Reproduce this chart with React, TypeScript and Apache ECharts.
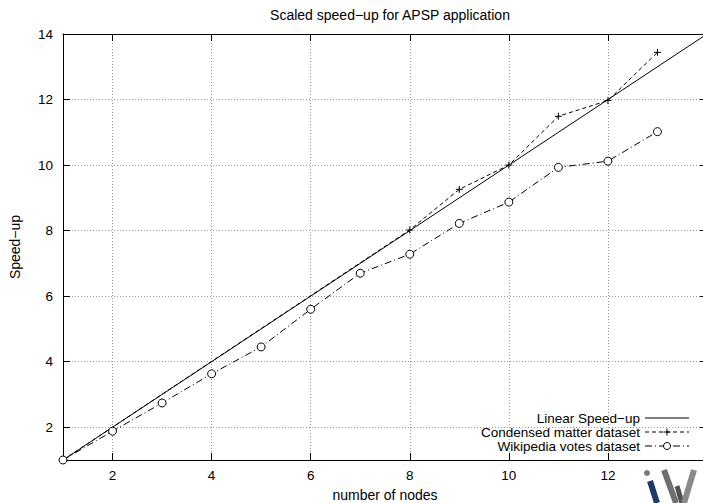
import React, { useEffect, useRef } from "react";
import * as echarts from "echarts";

const linearX = [1, 14];
const condensedNodes = [1, 8, 9, 10, 11, 12, 13];
const condensed = [1, 8.02, 9.26, 10.0, 11.49, 11.97, 13.44];
const wikiNodes = [1, 2, 3, 4, 5, 6, 7, 8, 9, 10, 11, 12, 13];
const wikipedia = [1.0, 1.88, 2.74, 3.63, 4.45, 5.6, 6.7, 7.28, 8.22, 8.87, 9.93, 10.12, 11.02];
const xTicks = [2, 4, 6, 8, 10, 12, 14];
const xLabels = [2, 4, 6, 8, 10, 12];
const yTicks = [2, 4, 6, 8, 10, 12, 14];
const seriesNames = ["Linear Speed−up", "Condensed matter dataset", "Wikipedia votes dataset"];
const titleText = "Scaled speed−up for APSP application";
const xName = "number of nodes";
const yName = "Speed−up";

const FONT = "'Liberation Sans', Arial, Helvetica, sans-serif";

export default function App() {
  const ref = useRef<HTMLDivElement>(null);
  useEffect(() => {
    if (!ref.current) return;
    const chart = echarts.init(ref.current, null, { renderer: "svg" });
    const gridLine = { show: true, lineStyle: { color: "#9a9a9a", type: [1, 2], width: 1 } };
    const tickIn = (vals: number[]) => ({ show: true, inside: true, length: 7, customValues: vals, lineStyle: { color: "#000", width: 1 } });
    const legendY = [418, 432, 446];
    const sampleX0 = 645;
    const sampleX1 = 689;
    const sampleMid = 667;
    const option: any = {
      animation: false,
      backgroundColor: "#fff",
      textStyle: { fontFamily: FONT },
      title: {
        text: titleText,
        left: 385,
        top: 3,
        textAlign: "center",
        textStyle: { fontFamily: FONT, fontSize: 14, fontWeight: "normal", color: "#000" },
      },
      grid: { left: 63, right: -4, top: 34, bottom: 43, containLabel: false, outerBoundsMode: "none" },
      xAxis: [
        {
          type: "value",
          min: 1,
          max: 14,
          position: "bottom",
          name: xName,
          nameLocation: "middle",
          nameGap: 28,
          nameTextStyle: { fontFamily: FONT, fontSize: 14, color: "#000" },
          axisLine: { show: true, onZero: false, lineStyle: { color: "#000", width: 1 } },
          axisTick: tickIn(xTicks),
          axisLabel: { customValues: xLabels, fontFamily: FONT, fontSize: 13.5, color: "#000", margin: 8 },
          splitLine: gridLine,
        },
        {
          type: "value",
          min: 1,
          max: 14,
          position: "top",
          axisLine: { show: true, onZero: false, lineStyle: { color: "#000", width: 1 } },
          axisTick: tickIn(xTicks),
          axisLabel: { show: false },
          splitLine: { show: false },
        },
      ],
      yAxis: [
        {
          type: "value",
          min: 1,
          max: 14,
          position: "left",
          name: yName,
          nameLocation: "middle",
          nameGap: 41,
          nameRotate: 90,
          nameTextStyle: { fontFamily: FONT, fontSize: 14, color: "#000" },
          axisLine: { show: true, onZero: false, lineStyle: { color: "#000", width: 1 } },
          axisTick: tickIn(yTicks),
          axisLabel: { customValues: yTicks, fontFamily: FONT, fontSize: 13.5, color: "#000", margin: 10 },
          splitLine: gridLine,
        },
        {
          type: "value",
          min: 1,
          max: 14,
          position: "right",
          axisLine: { show: true, onZero: false, lineStyle: { color: "#000", width: 1 } },
          axisTick: tickIn(yTicks),
          axisLabel: { show: false },
          splitLine: { show: false },
        },
      ],
      series: [
        {
          name: seriesNames[0],
          type: "line",
          data: linearX.map((x) => [x, x]),
          showSymbol: false,
          symbol: "none",
          lineStyle: { color: "#000", width: 1, type: "solid" },
          z: 3,
        },
        {
          name: seriesNames[1],
          type: "line",
          data: condensedNodes.map((x, i) => [x, condensed[i]]),
          symbol: "path://M0,5L10,5M5,0L5,10",
          symbolSize: 7,
          itemStyle: { color: "none", borderColor: "#000", borderWidth: 1 },
          lineStyle: { color: "#000", width: 1, type: [4, 3] },
          z: 4,
        },
        {
          name: seriesNames[2],
          type: "line",
          data: wikiNodes.map((x, i) => [x, wikipedia[i]]),
          symbol: "circle",
          symbolSize: 8,
          itemStyle: { color: "#fff", borderColor: "#000", borderWidth: 1 },
          lineStyle: { color: "#000", width: 1, type: [7, 3, 1, 3] },
          z: 5,
        },
      ],
      graphic: [
        ...seriesNames.map((n, i) => ({
          type: "text",
          x: 640,
          y: legendY[i],
          style: { text: n, fontFamily: FONT, fontSize: 13.5, lineHeight: 13, fill: "#000", textAlign: "right", textVerticalAlign: "middle" },
          z: 10,
        })),
        { type: "line", shape: { x1: sampleX0, y1: legendY[0], x2: sampleX1, y2: legendY[0] }, style: { stroke: "#000", lineWidth: 1 }, z: 10 },
        { type: "line", shape: { x1: sampleX0, y1: legendY[1], x2: sampleX1, y2: legendY[1] }, style: { stroke: "#000", lineWidth: 1, lineDash: [4, 3] }, z: 10 },
        { type: "line", shape: { x1: sampleMid - 3.5, y1: legendY[1], x2: sampleMid + 3.5, y2: legendY[1] }, style: { stroke: "#000", lineWidth: 1 }, z: 11 },
        { type: "line", shape: { x1: sampleMid, y1: legendY[1] - 3.5, x2: sampleMid, y2: legendY[1] + 3.5 }, style: { stroke: "#000", lineWidth: 1 }, z: 11 },
        { type: "line", shape: { x1: sampleX0, y1: legendY[2], x2: sampleX1, y2: legendY[2] }, style: { stroke: "#000", lineWidth: 1, lineDash: [7, 3, 1, 3] }, z: 10 },
        { type: "circle", shape: { cx: sampleMid, cy: legendY[2], r: 3.5 }, style: { fill: "#fff", stroke: "#000", lineWidth: 1 }, z: 11 },
        // watermark logo
        { type: "circle", shape: { cx: 647, cy: 473, r: 3 }, style: { fill: "#7a7a7a" }, z: 12 },
        { type: "line", shape: { x1: 650, y1: 481, x2: 657, y2: 503 }, style: { stroke: "#1f3a6a", lineWidth: 6 }, z: 12 },
        { type: "line", shape: { x1: 664, y1: 470, x2: 676, y2: 503 }, style: { stroke: "#6f6f6f", lineWidth: 6 }, z: 12 },
        { type: "line", shape: { x1: 677, y1: 486, x2: 682, y2: 503 }, style: { stroke: "#505050", lineWidth: 5 }, z: 12 },
        { type: "line", shape: { x1: 694, y1: 470, x2: 684, y2: 503 }, style: { stroke: "#8a8a8a", lineWidth: 6 }, z: 12 },
      ],
    };
    chart.setOption(option);
    return () => chart.dispose();
  }, []);
  return (
    <div
      ref={ref}
      style={{ position: "fixed", left: 0, top: 0, width: 703, height: 503, background: "#fff" }}
    />
  );
}
